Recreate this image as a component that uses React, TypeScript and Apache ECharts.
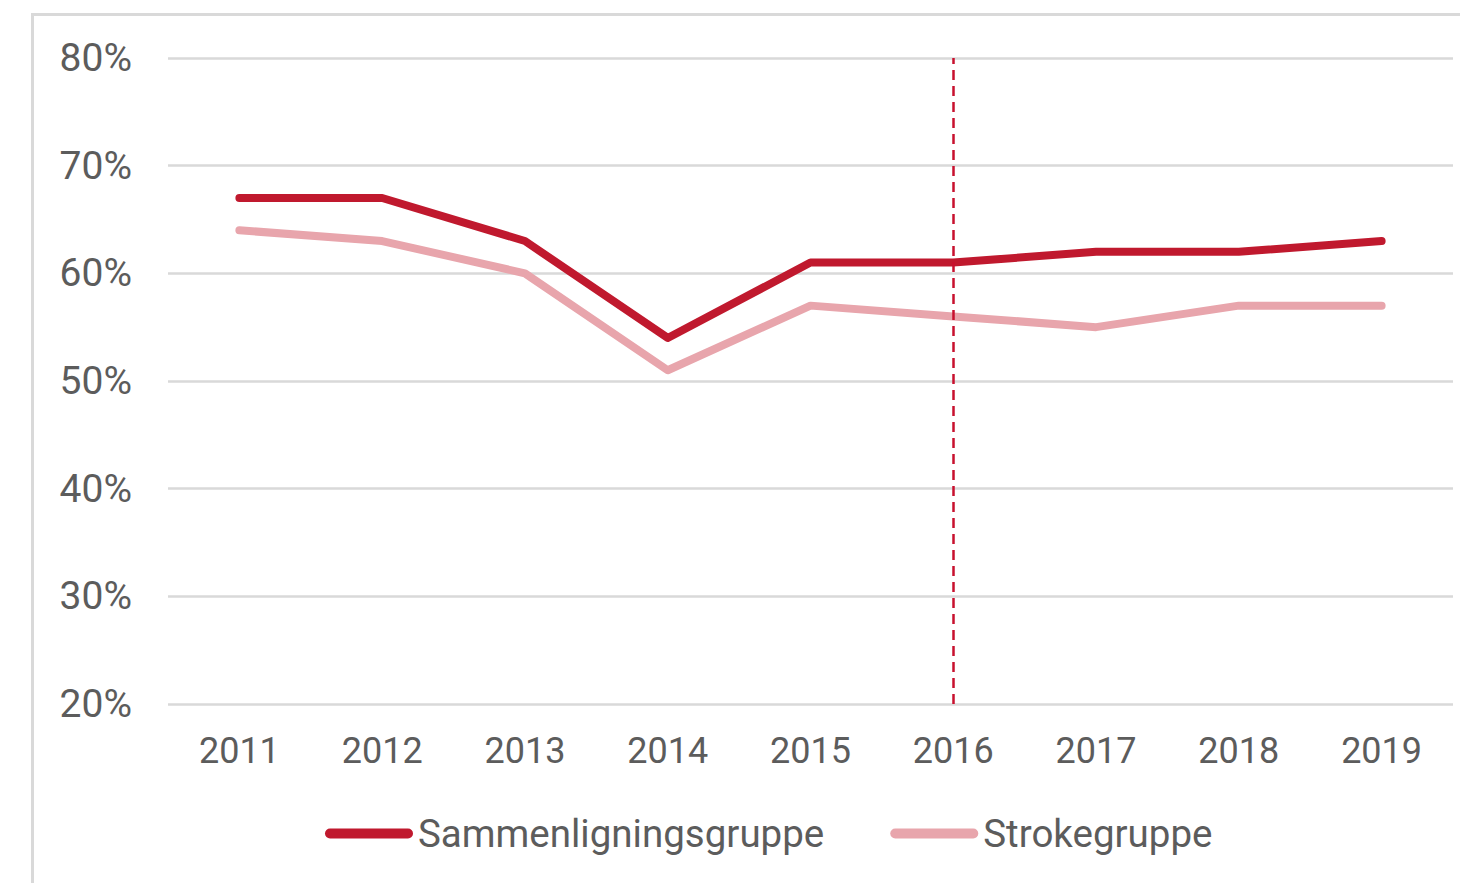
import React, { useEffect, useRef } from "react";
import * as echarts from "echarts";

const years = ["2011", "2012", "2013", "2014", "2015", "2016", "2017", "2018", "2019"];
const sammenligning = [67, 67, 63, 54, 61, 61, 62, 62, 63];
const stroke = [64, 63, 60, 51, 57, 56, 55, 57, 57];
const markYear = "2016";
const seriesNames = ["Sammenligningsgruppe", "Strokegruppe"];

const RED = "#C0192E";
const PINK = "#E8A5AC";
const TEXT = "#5c5c5c";
const FONT = "Roboto, 'Noto Sans', sans-serif";
const pill = "path://M5,0 L83,0 A5,5 0 0 1 83,10 L5,10 A5,5 0 0 1 5,0 Z";

export default function App() {
  const ref = useRef<HTMLDivElement>(null);
  useEffect(() => {
    if (!ref.current) return;
    const chart = echarts.init(ref.current, undefined, { renderer: "svg" });
    chart.setOption({
      animation: false,
      backgroundColor: "#ffffff",
      textStyle: { fontFamily: FONT },
      graphic: [
        {
          type: "rect",
          left: 30,
          top: 12,
          shape: { width: 1500, height: 1000 },
          style: { fill: "none", stroke: "#d9d9d9", lineWidth: 3 },
          z: -1,
        },
      ],
      grid: { left: 168, right: 7, top: 58, bottom: 179, containLabel: false },
      legend: {
        left: 320,
        top: 809,
        itemWidth: 88,
        itemHeight: 10,
        itemGap: 66,
        icon: pill,
        textStyle: { fontSize: 38.5, color: TEXT, fontFamily: FONT, padding: [0, 0, 0, 0] },
        data: seriesNames,
      },
      xAxis: {
        type: "category",
        data: years,
        boundaryGap: true,
        axisLine: { show: false },
        axisTick: { show: false },
        axisLabel: { fontSize: 36, color: TEXT, margin: 29, fontFamily: FONT },
      },
      yAxis: {
        type: "value",
        min: 20,
        max: 80,
        interval: 10,
        axisLine: { show: false },
        axisTick: { show: false },
        axisLabel: {
          fontSize: 39,
          color: TEXT,
          margin: 36,
          fontFamily: FONT,
          formatter: (v: number) => v + "%",
        },
        splitLine: { lineStyle: { color: "#d9d9d9", width: 2.5 } },
      },
      series: [
        {
          name: seriesNames[0],
          type: "line",
          data: sammenligning,
          showSymbol: false,
          symbol: "none",
          color: RED,
          lineStyle: { color: RED, width: 8, cap: "round", join: "round" },
          z: 3,
          markLine: {
            silent: true,
            symbol: "none",
            label: { show: false },
            lineStyle: { color: "#C8102E", width: 2.5, type: [10, 6] },
            data: [{ xAxis: markYear }],
          },
        },
        {
          name: seriesNames[1],
          type: "line",
          data: stroke,
          showSymbol: false,
          symbol: "none",
          color: PINK,
          lineStyle: { color: PINK, width: 8, cap: "round", join: "round" },
          z: 2,
        },
      ],
    });
    return () => chart.dispose();
  }, []);
  return (
    <div
      ref={ref}
      style={{ position: "fixed", left: 0, top: 0, width: 1460, height: 883 }}
    />
  );
}
